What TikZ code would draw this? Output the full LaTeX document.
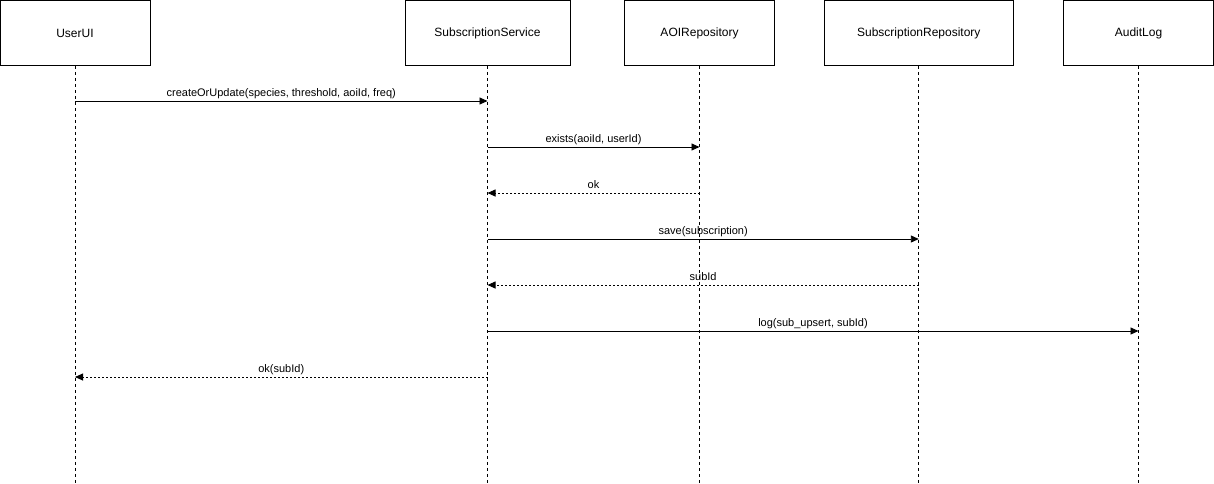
\documentclass[tikz,border=0pt]{standalone}
\usepackage{fontspec}
\setmainfont{Liberation Sans}
\usetikzlibrary{arrows.meta}
\begin{document}
\begin{tikzpicture}[x=1pt,y=-1pt,
  actor/.style={draw=black,line width=0.9pt,minimum height=65pt,inner sep=0pt,
    font=\fontsize{12}{14}\selectfont,anchor=north},
  lifeline/.style={draw=black,line width=0.8pt,dash pattern=on 3pt off 3pt},
  call/.style={draw=black,line width=0.9pt,-{Triangle[length=8pt,width=7pt]}},
  reply/.style={draw=black,line width=0.9pt,dash pattern=on 2pt off 2pt,
    -{Triangle[length=8pt,width=7pt]}},
  msg/.style={font=\fontsize{11}{13}\selectfont,anchor=base,inner sep=0pt,yshift=5pt}]
\useasboundingbox (0,0) rectangle (1214,483);
% participants
\node[actor,minimum width=150pt] (ui)  at (75,0)     {UserUI};
\node[actor,minimum width=165pt] (svc) at (487.5,0)  {SubscriptionService};
\node[actor,minimum width=150pt] (aoi) at (699.5,0)  {AOIRepository};
\node[actor,minimum width=189pt] (sr)  at (918.8,0)  {SubscriptionRepository};
\node[actor,minimum width=150pt] (log) at (1138.5,0) {AuditLog};
% lifelines
\foreach \p in {ui,svc,aoi,sr,log}{
  \coordinate (\p-end) at (\p.south |- 0,483);
  \draw[lifeline] (\p.south) -- (\p-end);
}
% message rows
\foreach \p in {ui,svc,aoi,sr,log}{
  \foreach \i/\y in {1/101,2/147,3/193,4/239,5/285,6/331,7/377}{
    \coordinate (\p-\i) at (\p.south |- 0,\y);
  }
}
\draw[call]  (ui-1)  -- node[msg] (m1) {createOrUpdate(species, threshold, aoiId, freq)} (svc-1);
\draw[call]  (svc-2) -- node[msg] (m2) {exists(aoiId, userId)} (aoi-2);
\draw[reply] (aoi-3) -- node[msg] (m3) {ok} (svc-3);
\draw[call]  (svc-4) -- node[msg] (m4) {save(subscription)} (sr-4);
\draw[reply] (sr-5)  -- node[msg] (m5) {subId} (svc-5);
\draw[call]  (svc-6) -- node[msg] (m6) {log(sub\_upsert, subId)} (log-6);
\draw[reply] (svc-7) -- node[msg] (m7) {ok(subId)} (ui-7);
\end{tikzpicture}
\end{document}
